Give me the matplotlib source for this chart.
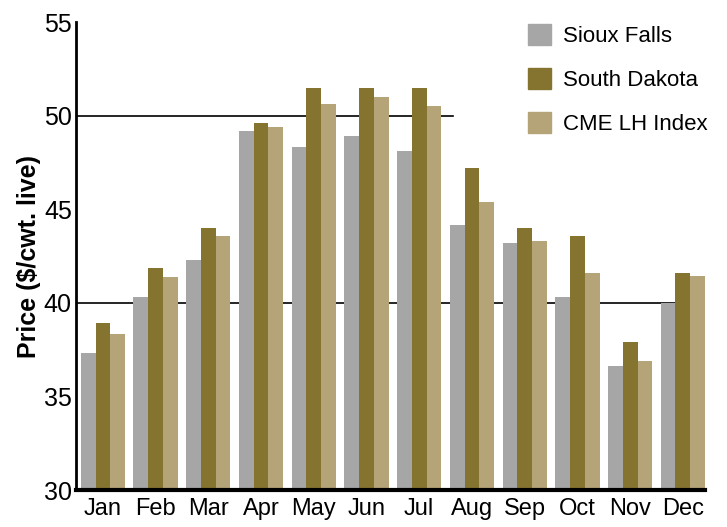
import numpy as np
import matplotlib.pyplot as plt
from matplotlib.patches import Patch

months = ["Jan", "Feb", "Mar", "Apr", "May", "Jun", "Jul", "Aug", "Sep", "Oct", "Nov", "Dec"]
sioux_falls = [37.3, 40.3, 42.3, 49.2, 48.3, 48.9, 48.1, 44.15, 43.2, 40.3, 36.6, 40.0]
south_dakota = [38.9, 41.85, 44.0, 49.6, 51.45, 51.45, 51.45, 47.2, 44.0, 43.55, 37.9, 41.6]
cme_lh_index = [38.35, 41.4, 43.55, 49.4, 50.6, 51.0, 50.5, 45.4, 43.3, 41.6, 36.9, 41.45]

series = [("Sioux Falls", sioux_falls, "#a6a6a6"),
          ("South Dakota", south_dakota, "#857430"),
          ("CME LH Index", cme_lh_index, "#b5a477")]

plt.rcParams['font.family'] = ['Liberation Sans', 'DejaVu Sans']

fig = plt.figure(figsize=(7.27, 5.27), dpi=100)
ax = fig.add_axes([76 / 727, 37 / 527, 629 / 727, 468 / 527])

x = np.arange(len(months))
w = 0.28
for i, (name, vals, col) in enumerate(series):
    ax.bar(x + (i - 1) * w, np.array(vals) - 30, bottom=30, width=w, color=col, zorder=2)

ax.axhline(50, xmin=0, xmax=(453 - 76) / 629, color='black', lw=1.2, zorder=1)
ax.axhline(40, color='black', lw=1.2, zorder=1)

ax.set_xlim(-0.51, 11.42)
ax.set_ylim(30, 55)
ax.set_yticks([30, 35, 40, 45, 50, 55])
ax.set_xticks(x)
ax.set_xticklabels(months)
ax.tick_params(axis='y', length=0, labelsize=18, pad=3)
ax.tick_params(axis='x', length=0, labelsize=17, pad=6)
for s in ['top', 'right']:
    ax.spines[s].set_visible(False)
ax.spines['left'].set_linewidth(2)
ax.spines['bottom'].set_linewidth(3)

ax.set_ylabel("Price ($/cwt. live)", fontsize=18, fontweight='bold', labelpad=2)

handles = [Patch(color=c, label=n) for n, _, c in series]
fig.legend(handles=handles, loc='upper left', bbox_to_anchor=(517 / 727, 1 - 13 / 527),
           frameon=False, fontsize=16, handlelength=1.05, handleheight=1.05,
           handletextpad=0.5, labelspacing=0.95, borderpad=0)

plt.savefig("out.png", dpi=100)
